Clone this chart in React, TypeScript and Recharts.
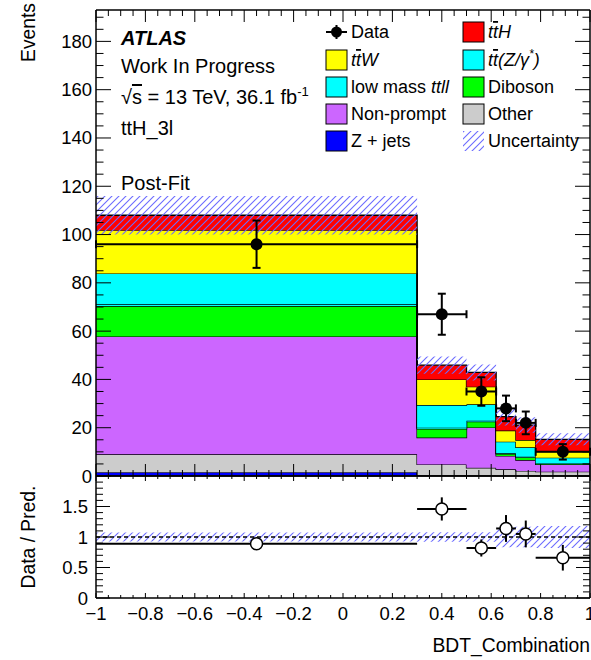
import React from 'react';
import { ComposedChart, Area, Scatter, XAxis, YAxis, ErrorBar, ReferenceLine } from 'recharts';

// BDT bins (variable width)
const binEdges = [-1, 0.3, 0.5, 0.62, 0.7, 0.78, 1];

// post-fit yields per bin, stacked bottom -> top
const zJets = [1.6, 0.3, 0.2, 0.1, 0.1, 0.1];
const other = [7.4, 4.5, 3.2, 2.7, 2.0, 1.7];
const nonPrompt = [48.8, 11.1, 16.7, 5.5, 4.5, 3.0];
const diboson = [12.6, 3.6, 2.4, 0.9, 1.2, 0.3];
const lowMassTtll = [0.7, 0.5, 0.4, 0.2, 0.2, 0.1];
const ttZ = [12.8, 9.4, 6.8, 4.8, 3.9, 2.4];
const ttW = [17.9, 10.6, 7.3, 4.6, 3.0, 2.5];
const ttH = [6.2, 5.9, 5.9, 5.8, 6.2, 5.1];
const totalUnc = [8.0, 3.6, 3.3, 3.7, 3.2, 2.5];

const dataCounts = [96, 67, 35, 28, 22, 10];
const dataErr = [9.8, 8.5, 5.9, 5.3, 4.7, 3.2];

const ratioValues = [0.89, 1.46, 0.82, 1.14, 1.05, 0.66];
const ratioErr = [0.09, 0.19, 0.14, 0.22, 0.22, 0.21];
const ratioUnc = [0.074, 0.078, 0.078, 0.17, 0.17, 0.18];

const xMajor = [-1, -0.8, -0.6, -0.4, -0.2, 0, 0.2, 0.4, 0.6, 0.8, 1];
const yMajor = [0, 20, 40, 60, 80, 100, 120, 140, 160, 180];
const ratioMajor = [0, 0.5, 1, 1.5, 2];
const ratioLabels = [0, 0.5, 1, 1.5];

const colors = {
  zJets: '#0000ff',
  other: '#cccccc',
  nonPrompt: '#cc66ff',
  diboson: '#00ff00',
  lowMassTtll: '#00ffff',
  ttZ: '#00ffff',
  ttW: '#ffff00',
  ttH: '#ff0000',
};
const stackOrder: (keyof typeof colors)[] = ['zJets', 'other', 'nonPrompt', 'diboson', 'lowMassTtll', 'ttZ', 'ttW', 'ttH'];
const series: Record<string, number[]> = { zJets, other, nonPrompt, diboson, lowMassTtll, ttZ, ttW, ttH };

const FONT = '"Liberation Sans", Arial, Helvetica, sans-serif';
const HATCH = '#6b6bff';
const nBins = binEdges.length - 1;

const mcRows = binEdges.map((x, i) => {
  const j = Math.min(i, nBins - 1);
  const row: any = { x };
  let total = 0;
  stackOrder.forEach((k) => {
    row[k] = series[k][j];
    total += series[k][j];
  });
  row.band = [total - totalUnc[j], total + totalUnc[j]];
  return row;
});

const ratioRows = binEdges.map((x, i) => {
  const j = Math.min(i, nBins - 1);
  return { x, band: [1 - ratioUnc[j], 1 + ratioUnc[j]] };
});

const dataRows = dataCounts.map((y, i) => ({
  x: (binEdges[i] + binEdges[i + 1]) / 2,
  y,
  xErr: (binEdges[i + 1] - binEdges[i]) / 2,
  yErr: dataErr[i],
}));

const ratioPoints = ratioValues.map((y, i) => ({
  x: (binEdges[i] + binEdges[i + 1]) / 2,
  y,
  xErr: (binEdges[i + 1] - binEdges[i]) / 2,
  yErr: ratioErr[i],
}));

// minor tick positions
const xTicks = Array.from({ length: 41 }, (_, i) => Math.round((-1 + i * 0.05) * 100) / 100);
const yTicks = Array.from({ length: 39 }, (_, i) => i * 5);
const ratioTicks = Array.from({ length: 21 }, (_, i) => Math.round(i * 10) / 100);

function fmt(v: number) {
  const s = String(Math.round(Math.abs(v) * 100) / 100);
  return v < 0 ? '\u2212' + s : s;
}

function makeTick(side: string, majors: number[], labels: number[], majorLen: number, minorLen: number, gap: number) {
  return (props: any) => {
    const { x, y, payload } = props;
    const v = payload.value as number;
    const isMajor = majors.some((m) => Math.abs(m - v) < 1e-6);
    const hasLabel = labels.some((m) => Math.abs(m - v) < 1e-6);
    const len = isMajor ? majorLen : minorLen;
    let x2 = x;
    let y2 = y;
    let tx = x;
    let ty = y;
    let anchor = 'middle';
    if (side === 'bottom') {
      y2 = y - len;
      ty = y + gap;
    } else if (side === 'top') {
      y2 = y + len;
    } else if (side === 'left') {
      x2 = x + len;
      tx = x - gap;
      anchor = 'end';
    } else {
      x2 = x - len;
    }
    return (
      <g>
        <line x1={x} y1={y} x2={x2} y2={y2} stroke="#000" strokeWidth={1} />
        {hasLabel && (
          <text x={tx} y={ty} textAnchor={anchor} dominantBaseline="central" fontFamily={FONT} fontSize={18.5} fill="#000">
            {fmt(v)}
          </text>
        )}
      </g>
    );
  };
}

const dataDot = (p: any) => <circle cx={p.cx} cy={p.cy} r={6} fill="#000" />;
const ratioDot = (p: any) => <circle cx={p.cx} cy={p.cy} r={6} fill="#fff" stroke="#000" strokeWidth={1.5} />;

function Hatch({ id }: { id: string }) {
  return (
    <pattern id={id} patternUnits="userSpaceOnUse" width={7} height={7}>
      <path d="M-1,1 l2,-2 M0,7 l7,-7 M6,8 l2,-2" stroke={HATCH} strokeWidth={1.1} />
    </pattern>
  );
}

const axisLine = { stroke: '#000', strokeWidth: 1.5 };

function MainPanel() {
  return (
    <ComposedChart width={591} height={660} data={mcRows} margin={{ top: 9, right: 0, bottom: 183, left: 95 }}>
      <defs>
        <Hatch id="hatchMain" />
      </defs>
      <XAxis xAxisId="b" dataKey="x" type="number" domain={[-1, 1]} allowDataOverflow ticks={xTicks} interval={0}
        height={1} tickSize={0} tickMargin={0} tickLine={false} axisLine={axisLine}
        tick={makeTick('bottom', xMajor, [], 12, 6, 0)} />
      <XAxis xAxisId="t" orientation="top" dataKey="x" type="number" domain={[-1, 1]} allowDataOverflow ticks={xTicks} interval={0}
        height={1} tickSize={0} tickMargin={0} tickLine={false} axisLine={axisLine}
        tick={makeTick('top', xMajor, [], 12, 6, 0)} />
      <YAxis yAxisId="l" dataKey="y" type="number" domain={[0, 193]} allowDataOverflow ticks={yTicks} interval={0}
        width={1} tickSize={0} tickMargin={0} tickLine={false} axisLine={axisLine}
        tick={makeTick('left', yMajor, yMajor, 15, 7.5, 4)} />
      <YAxis yAxisId="r" orientation="right" type="number" domain={[0, 193]} allowDataOverflow ticks={yTicks} interval={0}
        width={1} tickSize={0} tickMargin={0} tickLine={false} axisLine={axisLine}
        tick={makeTick('right', yMajor, [], 15, 7.5, 0)} />
      {stackOrder.map((k) => (
        <Area key={k} xAxisId="b" yAxisId="l" dataKey={k} stackId="mc" type="stepAfter" fill={colors[k]} fillOpacity={1}
          stroke="#000" strokeWidth={1.3} dot={false} activeDot={false} isAnimationActive={false} />
      ))}
      <Area xAxisId="b" yAxisId="l" dataKey="band" type="stepAfter" fill="url(#hatchMain)" fillOpacity={1} stroke="none"
        dot={false} activeDot={false} isAnimationActive={false} />
      <Scatter xAxisId="b" yAxisId="l" data={dataRows} dataKey="y" shape={dataDot} isAnimationActive={false}>
        <ErrorBar dataKey="xErr" direction="x" width={4} stroke="#000" strokeWidth={2} />
        <ErrorBar dataKey="yErr" direction="y" width={4} stroke="#000" strokeWidth={2} />
      </Scatter>
    </ComposedChart>
  );
}

function RatioPanel() {
  return (
    <ComposedChart width={591} height={660} data={ratioRows} margin={{ top: 475, right: 0, bottom: 61, left: 95 }}>
      <defs>
        <Hatch id="hatchRatio" />
      </defs>
      <XAxis xAxisId="b" dataKey="x" type="number" domain={[-1, 1]} allowDataOverflow ticks={xTicks} interval={0}
        height={1} tickSize={0} tickMargin={0} tickLine={false} axisLine={axisLine}
        tick={makeTick('bottom', xMajor, xMajor, 5, 3, 15)} />
      <XAxis xAxisId="t" orientation="top" dataKey="x" type="number" domain={[-1, 1]} allowDataOverflow ticks={xTicks} interval={0}
        height={1} tickSize={0} tickMargin={0} tickLine={false} axisLine={axisLine}
        tick={makeTick('top', xMajor, [], 5, 3, 0)} />
      <YAxis yAxisId="l" dataKey="y" type="number" domain={[0, 2]} allowDataOverflow ticks={ratioTicks} interval={0}
        width={1} tickSize={0} tickMargin={0} tickLine={false} axisLine={axisLine}
        tick={makeTick('left', ratioMajor, ratioLabels, 14, 7, 8)} />
      <YAxis yAxisId="r" orientation="right" type="number" domain={[0, 2]} allowDataOverflow ticks={ratioTicks} interval={0}
        width={1} tickSize={0} tickMargin={0} tickLine={false} axisLine={axisLine}
        tick={makeTick('right', ratioMajor, [], 14, 7, 0)} />
      <Area xAxisId="b" yAxisId="l" dataKey="band" type="stepAfter" fill="url(#hatchRatio)" fillOpacity={1} stroke="none"
        dot={false} activeDot={false} isAnimationActive={false} />
      <ReferenceLine xAxisId="b" yAxisId="l" y={1} stroke="#000" strokeWidth={1.5} strokeDasharray="4 3" />
      <Scatter xAxisId="b" yAxisId="l" data={ratioPoints} dataKey="y" shape={ratioDot} isAnimationActive={false}>
        <ErrorBar dataKey="xErr" direction="x" width={0} stroke="#000" strokeWidth={2} />
        <ErrorBar dataKey="yErr" direction="y" width={0} stroke="#000" strokeWidth={2} />
      </Scatter>
    </ComposedChart>
  );
}

const legendLeft = [
  { key: 'data', label: 'Data' },
  { key: 'ttW', label: 'ttW' },
  { key: 'lowMassTtll', label: 'low mass ttll' },
  { key: 'nonPrompt', label: 'Non-prompt' },
  { key: 'zJets', label: 'Z + jets' },
];
const legendRight = [
  { key: 'ttH', label: 'ttH' },
  { key: 'ttZ', label: 'tt(Z/γ*)' },
  { key: 'diboson', label: 'Diboson' },
  { key: 'other', label: 'Other' },
  { key: 'unc', label: 'Uncertainty' },
];
const legendRowsY = [32, 60, 87, 114, 141];

function LegendLabel({ k, label, x, y }: { k: string; label: string; x: number; y: number }) {
  const common = { x, y, fontFamily: FONT, fontSize: 18, fill: '#000', dominantBaseline: 'central' as const };
  const bar = { textDecoration: 'overline' };
  if (k === 'ttW' || k === 'ttH') {
    return (
      <text {...common} fontStyle="italic">
        t<tspan style={bar}>t</tspan>{label.slice(2)}
      </text>
    );
  }
  if (k === 'ttZ') {
    return (
      <text {...common} fontStyle="italic">
        t<tspan style={bar}>t</tspan>(Z/γ<tspan dy={-6} fontSize={12}>*</tspan><tspan dy={6}>)</tspan>
      </text>
    );
  }
  if (k === 'lowMassTtll') {
    return (
      <text {...common}>
        low mass <tspan fontStyle="italic">ttll</tspan>
      </text>
    );
  }
  return <text {...common}>{label}</text>;
}

function LegendMarker({ k, x, y }: { k: string; x: number; y: number }) {
  if (k === 'data') {
    return (
      <g>
        <line x1={x} y1={y} x2={x + 21} y2={y} stroke="#000" strokeWidth={2} />
        <line x1={x + 10.5} y1={y - 7} x2={x + 10.5} y2={y + 7} stroke="#000" strokeWidth={2} />
        <circle cx={x + 10.5} cy={y} r={5.5} fill="#000" />
      </g>
    );
  }
  if (k === 'unc') {
    return <rect x={x} y={y - 10} width={21} height={20} fill="url(#hatchLegend)" />;
  }
  return <rect x={x} y={y - 10} width={21} height={20} fill={(colors as any)[k]} stroke="#000" strokeWidth={1} />;
}

function Overlay() {
  const t = { fontFamily: FONT, fontSize: 20, fill: '#000' };
  return (
    <svg width={591} height={660} style={{ position: 'absolute', left: 0, top: 0, pointerEvents: 'none' }}>
      <defs>
        <Hatch id="hatchLegend" />
      </defs>
      <text x={121} y={45} {...t} fontWeight="bold" fontStyle="italic">ATLAS</text>
      <text x={121} y={73} {...t}>Work In Progress</text>
      <text x={121} y={104} {...t}>
        √<tspan style={{ textDecoration: 'overline' }}>s</tspan> = 13 TeV, 36.1 fb<tspan dy={-8} fontSize={13}>-1</tspan>
      </text>
      <text x={121} y={135} {...t}>ttH_3l</text>
      <text x={121} y={190} {...t}>Post-Fit</text>

      {legendLeft.map((e, i) => (
        <g key={e.key}>
          <LegendMarker k={e.key} x={326} y={legendRowsY[i]} />
          <LegendLabel k={e.key} label={e.label} x={351} y={legendRowsY[i]} />
        </g>
      ))}
      {legendRight.map((e, i) => (
        <g key={e.key}>
          <LegendMarker k={e.key} x={463} y={legendRowsY[i]} />
          <LegendLabel k={e.key} label={e.label} x={488} y={legendRowsY[i]} />
        </g>
      ))}

      <text transform="translate(35,3) rotate(-90)" textAnchor="end" fontFamily={FONT} fontSize={19.3} fill="#000">Events</text>
      <text transform="translate(35,537) rotate(-90)" textAnchor="middle" fontFamily={FONT} fontSize={19.3} fill="#000">Data / Pred.</text>
      <text x={590} y={652} textAnchor="end" fontFamily={FONT} fontSize={19.3} fill="#000">BDT_Combination</text>
    </svg>
  );
}

export default function App() {
  return (
    <div style={{ position: 'absolute', left: 0, top: 0, width: 591, height: 660, background: '#fff' }}>
      <div style={{ position: 'absolute', left: 0, top: 0 }}>
        <MainPanel />
      </div>
      <div style={{ position: 'absolute', left: 0, top: 0 }}>
        <RatioPanel />
      </div>
      <Overlay />
    </div>
  );
}
